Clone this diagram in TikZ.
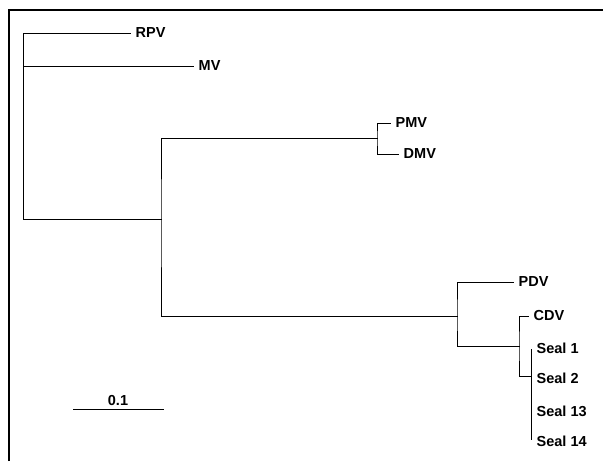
\documentclass[tikz,border=0pt]{standalone}
\usepackage{fontspec}
\setmainfont{Liberation Sans}
\usetikzlibrary{calc}
\begin{document}
\begin{tikzpicture}[x=1pt,y=-1pt,
  tree/.style={line width=1pt, line cap=rect},
  frame/.style={line width=1.3pt},
  leaf/.style={anchor=west, inner xsep=5.5pt, inner ysep=0pt, font=\fontsize{14.5}{16}\selectfont\bfseries},
  scalelbl/.style={anchor=south, inner sep=1pt, font=\fontsize{14.5}{16}\selectfont\bfseries}]
\useasboundingbox (0,0) rectangle (603,461);
% frame
\draw[frame] (9,461) -- (9,10) -- (603,10);
% junction coordinates
\coordinate (n0) at (23,219);
\coordinate (n1) at (161,219);
\coordinate (n2) at (377,138);
\coordinate (n3) at (457,316);
\coordinate (n4) at (519,346);
\coordinate (n5) at (531,376);
% leaves
\node[leaf] (RPV) at (130,33) {RPV};
\node[leaf] (MV) at (193,66) {MV};
\node[leaf] (PMV) at (390,123) {PMV};
\node[leaf] (DMV) at (398,154) {DMV};
\node[leaf] (PDV) at (513,282) {PDV};
\node[leaf] (CDV) at (528,316) {CDV};
\node[leaf] (S1) at (531,348) {Seal 1};
\node[leaf] (S2) at (531,378) {Seal 2};
\node[leaf] (S13) at (531,411) {Seal 13};
\node[leaf] (S14) at (531,441) {Seal 14};
% tree
\draw[tree] (RPV.west) -| (n0) -- (n1);
\draw[tree] (MV.west) -- (MV.west -| n0);
\draw[tree] (n2) -| (n1) |- (n3);
\draw[tree] (PMV.west) -| (n2) |- (DMV.west);
\draw[tree] (PDV.west) -| (n3) |- (n4);
\draw[tree] (CDV.west) -| (n4) |- (n5);
\draw[tree] ([yshift=-1pt]S1.west) -- ([yshift=2pt]S14.west);
% scale bar
\coordinate (sbL) at (73,409);
\coordinate (sbR) at (163,409);
\draw[tree] (sbL) -- (sbR);
\node[scalelbl] (sb) at ($(sbL)!0.5!(sbR)+(0,-2)$) {0.1};
\end{tikzpicture}
\end{document}
